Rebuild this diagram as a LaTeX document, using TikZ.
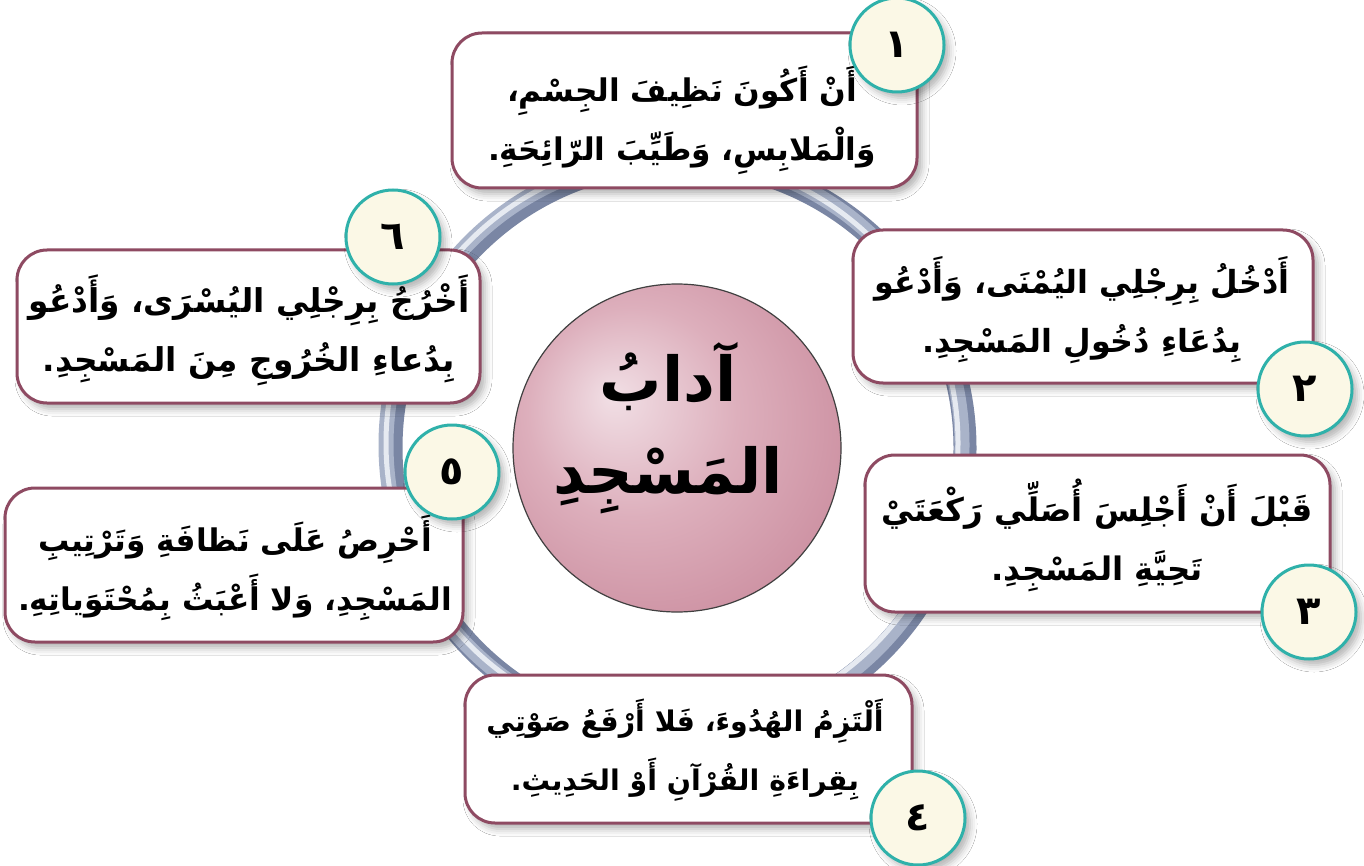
\documentclass[tikz,border=0pt]{standalone}
\usepackage{fontspec}
\newfontfamily\arabicfont[Script=Arabic]{DejaVu Sans}
\TeXXeTstate=1
\usetikzlibrary{shadows.blur}
\definecolor{boxline}{HTML}{8E4A62}
\definecolor{tealc}{HTML}{2FB1AA}
\definecolor{cream}{HTML}{FBF8E6}
\definecolor{ringdark}{HTML}{7A86A4}
\definecolor{ringmid}{HTML}{A9B3C9}
\definecolor{ringlight}{HTML}{E6EAF1}
\definecolor{pinkhi}{HTML}{F1DFE5}
\definecolor{pinkmid}{HTML}{DDAFBC}
\definecolor{pinklo}{HTML}{C68497}
\definecolor{pinkrim}{HTML}{5E2F40}
\pgfdeclareradialshading{pinkball}{\pgfpoint{-10bp}{8bp}}{color(0bp)=(pinkhi); color(16bp)=(pinkmid); color(38bp)=(pinklo); color(46bp)=(pinklo!80!black); color(50bp)=(pinkrim)}
\newcommand{\ar}[1]{{\arabicfont\bfseries\beginR #1\endR}}
\tikzset{
  shadowed/.style={blur shadow={shadow xshift=2.5pt, shadow yshift=-3pt, shadow blur radius=3.5pt, shadow opacity=30}},
  box/.style={draw=boxline, line width=1.5pt, rounded corners=15pt, fill=white, inner sep=0pt, shadowed},
  txt/.style={align=center, inner sep=0pt, font=\fontsize{#1}{29.5}\selectfont},
  centretxt/.style={align=center, inner sep=0pt, font=\fontsize{31}{46}\selectfont},
  numc/.style={circle, draw=tealc, line width=1.5pt, fill=cream, minimum size=47pt, inner sep=0pt,
    font=\fontsize{20}{22}\selectfont, shadowed},
}
\begin{document}
\begin{tikzpicture}[x=0.5pt, y=-0.5pt]
\useasboundingbox (0,0) rectangle (1364,866);
\fill[white] (0,0) rectangle (1364,866);
% ring
\coordinate (rc) at (678,448);
\draw[ringdark, line width=11.5pt] (rc) circle[radius=143.5pt];
\draw[ringmid, line width=7.5pt] ([shift={(-4,-3)}]rc) circle[radius=144pt];
\draw[ringlight, line width=2.5pt] ([shift={(-6,-5)}]rc) circle[radius=143pt];
% centre disc
\coordinate (cc) at (677,448);
\shade[shading=pinkball] (cc) circle[radius=82pt];
\draw[black!75, line width=0.6pt] (cc) circle[radius=82pt];
\node[centretxt] (centre) at (668,428)
  {\ar{آدابُ}\\\ar{المَسْجِدِ}};
% boxes
\node[box, minimum width=232.5pt, minimum height=77.5pt] (b1) at (684.5,110.5) {};
\node[box, minimum width=230pt, minimum height=76.5pt] (b2) at (1083,306.5) {};
\node[box, minimum width=232.5pt, minimum height=78.5pt] (b3) at (1097.5,533.5) {};
\node[box, minimum width=223.5pt, minimum height=74pt] (b4) at (688.5,749) {};
\node[box, minimum width=229pt, minimum height=77pt] (b5) at (234,565) {};
\node[box, minimum width=231.5pt, minimum height=76.5pt] (b6) at (248.5,326.5) {};
% texts
\node[txt=15.6] (t1) at (682,120)
  {\ar{أَنْ أَكُونَ نَظِيفَ الجِسْمِ،}\\\ar{وَالْمَلابِسِ، وَطَيِّبَ الرّائِحَةِ.}};
\node[txt=15.9] (t2) at (1082,310)
  {\ar{أَدْخُلُ بِرِجْلِي اليُمْنَى، وَأَدْعُو}\\\ar{بِدُعَاءِ دُخُولِ المَسْجِدِ.}};
\node[txt=16.2] (t3) at (1097,535)
  {\ar{قَبْلَ أَنْ أَجْلِسَ أُصَلِّي رَكْعَتَيْ}\\\ar{تَحِيَّةِ المَسْجِدِ.}};
\node[txt=14.2] (t4) at (685,750)
  {\ar{أَلْتَزِمُ الهُدُوءَ، فَلا أَرْفَعُ صَوْتِي}\\\ar{بِقِراءَةِ القُرْآنِ أَوْ الحَدِيثِ.}};
\node[txt=15.6] (t5) at (235,568)
  {\ar{أَحْرِصُ عَلَى نَظافَةِ وَتَرْتِيبِ}\\\ar{المَسْجِدِ، وَلا أَعْبَثُ بِمُحْتَوَياتِهِ.}};
\node[txt=16.4] (t6) at (249,330)
  {\ar{أَخْرُجُ بِرِجْلِي اليُسْرَى، وَأَدْعُو}\\\ar{بِدُعاءِ الخُرُوجِ مِنَ المَسْجِدِ.}};
% number circles
\node[numc] (n1) at (897,45) {\ar{١}};
\node[numc] (n2) at (1305,389) {\ar{٢}};
\node[numc] (n3) at (1309,612) {\ar{٣}};
\node[numc] (n4) at (918,818) {\ar{٤}};
\node[numc] (n5) at (452,472) {\ar{٥}};
\node[numc] (n6) at (393,237) {\ar{٦}};
\end{tikzpicture}
\end{document}
